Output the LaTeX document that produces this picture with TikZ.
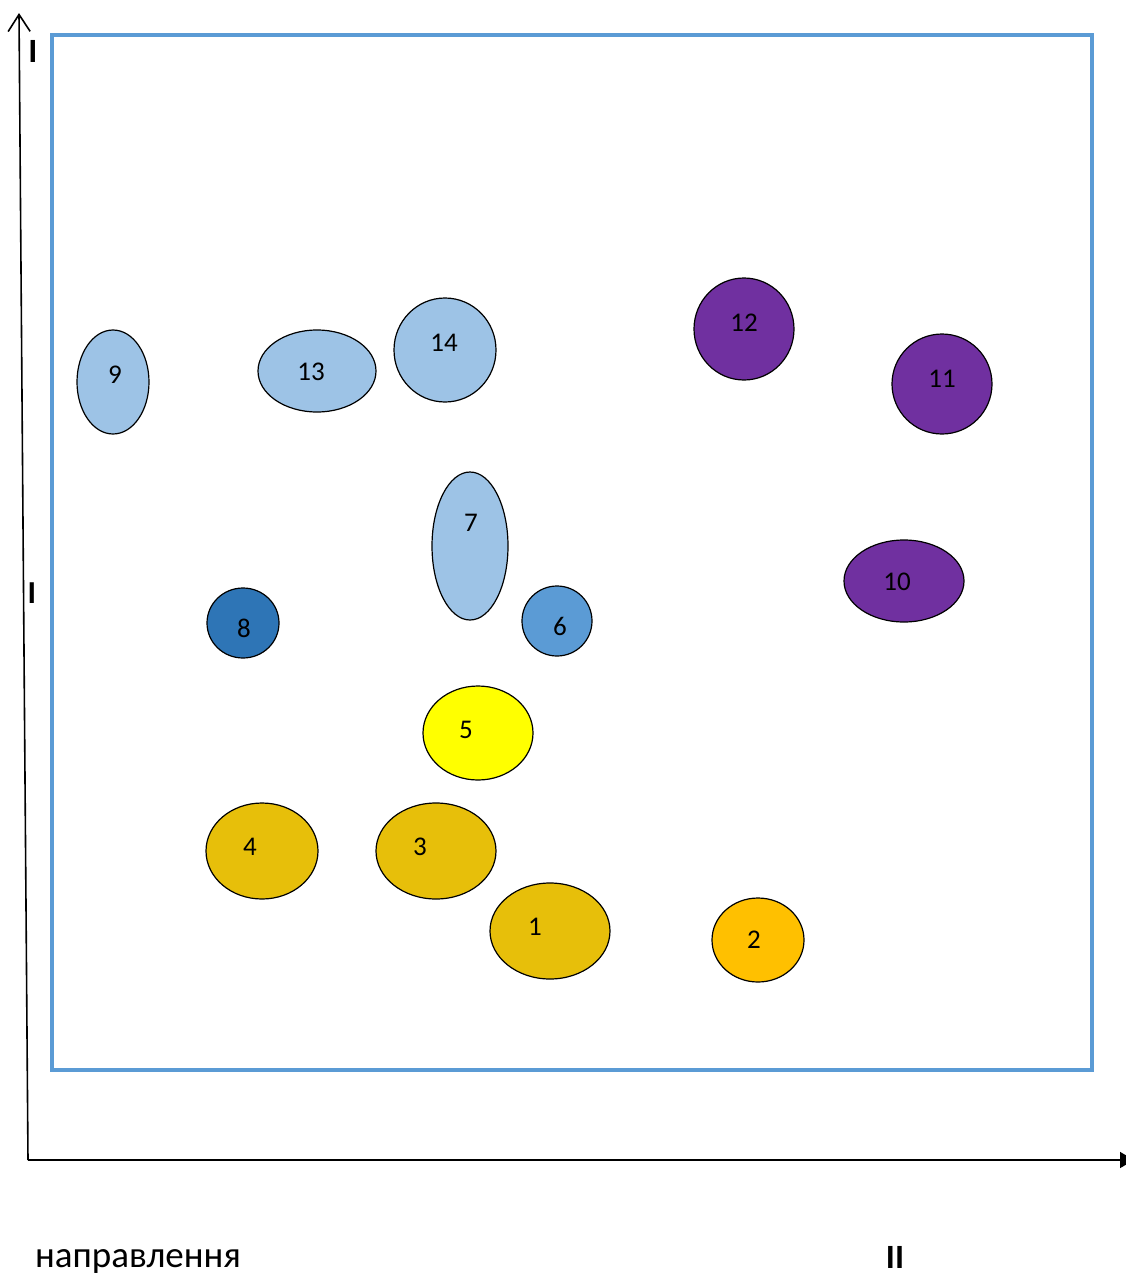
\documentclass[tikz,border=0pt]{standalone}
\usepackage{fontspec}
\setmainfont{Carlito}
\usetikzlibrary{shapes.geometric,arrows.meta}
\definecolor{frameblue}{HTML}{5B9BD5}
\definecolor{lightblue}{HTML}{9DC3E6}
\definecolor{midblue}{HTML}{5B9BD5}
\definecolor{darkblue}{HTML}{2E75B6}
\definecolor{violet}{HTML}{7030A0}
\definecolor{gold}{HTML}{E7BF0A}
\definecolor{amber}{HTML}{FFC000}
\definecolor{brightyellow}{HTML}{FFFF00}
\tikzset{
  blob/.style={ellipse, draw=black, line width=1.2pt, inner sep=0pt},
  num/.style={font=\fontsize{27}{32}\selectfont, inner sep=0pt},
  axislabel/.style={font=\fontsize{34}{40}\selectfont\bfseries, inner sep=0pt},
  axisline/.style={line width=1.6pt, draw=black},
}
\begin{document}
\begin{tikzpicture}[x=1pt,y=-1pt]
\useasboundingbox (0,0) rectangle (1126,1274);
% axes
\coordinate (O) at (28,1160);
\coordinate (ytip) at (19,13);
\coordinate (xtip) at (1134,1160);
\draw[axisline, -{Straight Barb[length=17pt,width=22pt,line width=1.6pt]}] (O) -- (ytip);
\draw[axisline, -{Triangle[length=14pt,width=16pt]}] (O) -- (xtip);
% frame
\node[draw=frameblue, line width=4pt, minimum width=1040pt, minimum height=1035pt, inner sep=0pt] (frame) at (572,552.5) {};
% axis labels
\node[axislabel] (l1) at (33,51) {I};
\node[axislabel, font=\fontsize{32}{38}\selectfont\bfseries] (l2) at (32,593) {I};
\node[font=\fontsize{37}{44}\selectfont, anchor=base west, inner sep=0pt] (dir) at (35,1267) {направлення};
\node[axislabel, anchor=base] (l3) at (895,1268) {II};
% ellipses
\node[blob, fill=lightblue, minimum width=72pt, minimum height=104pt] (e9) at (113,382) {};
\node[num] (t9) at (115,375) {9};
\node[blob, fill=lightblue, minimum width=118pt, minimum height=82pt] (e13) at (317,371) {};
\node[num] (t13) at (311,372) {13};
\node[blob, fill=lightblue, minimum width=102pt, minimum height=104pt] (e14) at (445,350) {};
\node[num] (t14) at (444,343) {14};
\node[blob, fill=lightblue, minimum width=76pt, minimum height=148pt] (e7) at (470,546) {};
\node[num] (t7) at (471,523) {7};
\node[blob, fill=violet, minimum width=100pt, minimum height=102pt] (e12) at (744,329) {};
\node[num] (t12) at (744,323) {12};
\node[blob, fill=violet, minimum width=100pt, minimum height=100pt] (e11) at (942,384) {};
\node[num] (t11) at (942,379) {11};
\node[blob, fill=violet, minimum width=120pt, minimum height=82pt] (e10) at (904,581) {};
\node[num] (t10) at (897,582) {10};
\node[blob, fill=darkblue, minimum width=72pt, minimum height=70pt] (e8) at (243,623) {};
\node[num] (t8) at (244,628) {8};
\node[blob, fill=midblue, minimum width=70pt, minimum height=70pt] (e6) at (557,621) {};
\node[num] (t6) at (560,626) {6};
\node[blob, fill=brightyellow, minimum width=110pt, minimum height=94pt] (e5) at (478,733) {};
\node[num] (t5) at (466,730) {5};
\node[blob, fill=gold, minimum width=112pt, minimum height=96pt] (e4) at (262,851) {};
\node[num] (t4) at (250,847) {4};
\node[blob, fill=gold, minimum width=120pt, minimum height=96pt] (e3) at (436,851) {};
\node[num] (t3) at (420,847) {3};
\node[blob, fill=gold, minimum width=120pt, minimum height=96pt] (e1) at (550,931) {};
\node[num] (t1) at (535,927) {1};
\node[blob, fill=amber, minimum width=92pt, minimum height=84pt] (e2) at (758,940) {};
\node[num] (t2) at (754,940) {2};
\end{tikzpicture}
\end{document}
